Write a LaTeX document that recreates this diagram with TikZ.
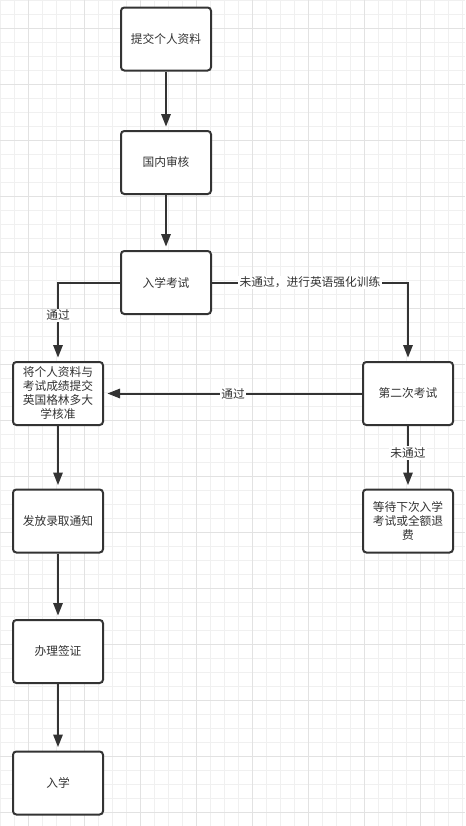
\documentclass[tikz,border=0pt]{standalone}
\usepackage{fontspec}
\setmainfont{Noto Sans CJK SC}
\usetikzlibrary{arrows.meta}
\definecolor{ink}{HTML}{333333}
\definecolor{gminor}{HTML}{F0F0F0}
\definecolor{gmajor}{HTML}{E2E2E2}
\tikzset{
  stepbox/.style={draw=ink, line width=1.5pt, rounded corners=2.5pt, fill=white,
    minimum width=67.5pt, minimum height=47.25pt, inner sep=1pt, align=center,
    text=ink, font=\fontsize{8.8}{10.5}\selectfont},
  conn/.style={draw=ink, line width=1.5pt, -{Triangle[length=9.5pt,width=7pt]}, shorten >=2.5pt},
  lbl/.style={fill=white, text=ink, inner sep=1pt, font=\fontsize{8.8}{10.5}\selectfont}
}
\begin{document}
\begin{tikzpicture}[x=0.75pt,y=-0.75pt]
\useasboundingbox (0,0) rectangle (465,826);
\fill[white] (0,0) rectangle (465,826);
\foreach \x in {0,14,...,464} \draw[gminor, line width=0.75pt] (\x,0) -- (\x,826);
\foreach \y in {0,14,...,825} \draw[gminor, line width=0.75pt] (0,\y) -- (465,\y);
\foreach \x in {28,84,...,464} \draw[gmajor, line width=0.75pt] (\x,0) -- (\x,826);
\foreach \y in {28,84,...,825} \draw[gmajor, line width=0.75pt] (0,\y) -- (465,\y);

\node[stepbox] (a) at (166,39) {提交个人资料};
\node[stepbox] (b) at (166,162.5) {国内审核};
\node[stepbox] (c) at (166,282.5) {入学考试};
\node[stepbox] (d) at (58,393.5) {将个人资料与\\考试成绩提交\\英国格林多大\\学核准};
\node[stepbox] (e) at (408,393.5) {第二次考试};
\node[stepbox] (f) at (408,521) {等待下次入学\\考试或全额退\\费};
\node[stepbox] (g) at (58,521) {发放录取通知};
\node[stepbox] (h) at (58,651.5) {办理签证};
\node[stepbox] (i) at (58,783) {入学};

\draw[conn] (a) -- (b);
\draw[conn] (b) -- (c);
\draw[conn] (c.west) -| node[lbl, pos=0.71] {通过} (d.north);
\draw[conn] (c.east) -| node[lbl, pos=0.25] {未通过，进行英语强化训练} (e.north);
\draw[conn] (e.west) -- node[lbl, pos=0.5] {通过} (d.east);
\draw[conn] (e) -- node[lbl, pos=0.43] {未通过} (f);
\draw[conn] (d) -- (g);
\draw[conn] (g) -- (h);
\draw[conn] (h) -- (i);
\end{tikzpicture}
\end{document}
